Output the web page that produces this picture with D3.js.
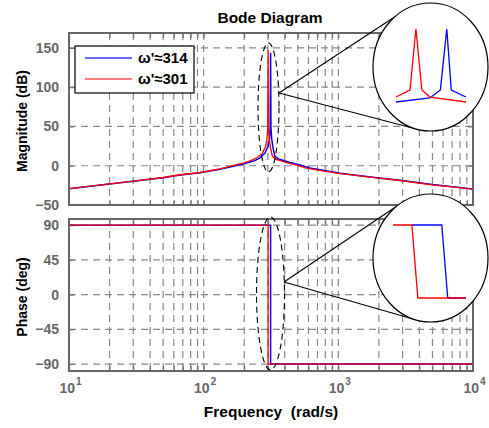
<!DOCTYPE html>
<html>
<head>
<meta charset="utf-8">
<script src="https://cdn.jsdelivr.net/npm/d3@7"></script>
<style>
body { margin: 0; background: #fff; }
text { font-family: "Liberation Sans", Arial, sans-serif; font-weight: bold; }
</style>
</head>
<body>
<svg id="chart" width="489" height="428"></svg>
<script>
// values
var seriesNames = ["\u03c9'\u2248314", "\u03c9'\u2248301"];

var magFreqBlue = [10, 20, 30, 50, 67, 94, 132, 200, 240, 262, 285, 300, 308, 312, 314, 316, 320, 328, 338, 360, 437, 519, 615, 1028, 2000, 2866, 5000, 10000];
var magBlue     = [-29.3, -23.4, -19.8, -15.3, -11.8, -9, -4.5, 2.5, 6.5, 10, 16, 24, 34, 48, 144, 48, 34, 22, 12, 8.5, 4, 1, -3, -9.5, -15.5, -18.5, -24, -29.5];

var magFreqRed  = [10, 20, 30, 50, 67, 94, 132, 200, 230, 251, 273, 288, 295, 299, 301, 303, 307, 314, 324, 345, 419, 497, 590, 1000, 2000, 2866, 5000, 10000];
var magRed      = [-29.1, -23.1, -19.5, -15, -11.5, -8.6, -4, 3.5, 7.5, 10.5, 16, 24, 34, 48, 147, 48, 34, 22, 12, 8, 3.5, 0.6, -3.3, -9.7, -15.8, -18.8, -24.3, -29.7];

var phFreqBlue = [10, 314, 314, 10000];
var phBlue     = [90, 90, -90, -90];
var phFreqRed  = [10, 301, 301, 10000];
var phRed      = [90, 90, -90, -90];

// zoomed views inside the circles
var zoomMagFreqBlue = [292.5, 306.8, 311.2, 313.9, 315.8, 322];
var zoomMagBlue     = [0, 5.5, 16.4, 100, 16.4, 6.8];
var zoomMagFreqRed  = [292.5, 298.4, 300.9, 303.4, 306.8, 322];
var zoomMagRed      = [6.8, 16.4, 100, 16.4, 6.8, 0];
var zoomPhFreqBlue  = [299.2, 311.8, 314.3, 322];
var zoomPhBlue      = [90, 90, -90, -90];
var zoomPhFreqRed   = [291.2, 299.2, 301.7, 322];
var zoomPhRed       = [90, 90, -90, -90];

var magTicks = [-50, 0, 50, 100, 150];
var phTicks = [-90, -45, 0, 45, 90];
var decades = [10, 100, 1000, 10000];
var decadeExp = ["1", "2", "3", "4"];

var svg = d3.select('#chart');
var frameColor = '#666',
    gridColor = '#888',
    blue = '#0000ff',
    red = '#ff0000';

var x = d3.scaleLog().domain([10, 10000]).range([69, 473]);
var yMag = d3.scaleLinear().domain([-50, 169]).range([205, 33]);
var yPh = d3.scaleLinear().domain([-99, 98]).range([371, 219]);

var minorTicks = x.ticks();

function zip(a, b) {
    return a.map(function(v, i) { return [v, b[i]]; });
}

function drawAxes(y, yTicks, top, bottom, id) {
    var g = svg.append('g');
    var left = x.range()[0], right = x.range()[1];

    // dashed grid
    g.selectAll('.hgrid').data(yTicks).enter()
        .append('line')
        .attr('x1', left).attr('x2', right)
        .attr('y1', function(d) { return y(d); })
        .attr('y2', function(d) { return y(d); })
        .style('stroke', gridColor).style('stroke-width', 1.2)
        .style('stroke-dasharray', '7,5');
    g.selectAll('.vgrid').data(minorTicks.slice(1, -1)).enter()
        .append('line')
        .attr('x1', function(d) { return x(d); })
        .attr('x2', function(d) { return x(d); })
        .attr('y1', top).attr('y2', bottom)
        .style('stroke', gridColor).style('stroke-width', 1.2)
        .style('stroke-dasharray', '7,5');

    // inside ticks
    g.append('g').attr('transform', 'translate(0,' + bottom + ')')
        .call(d3.axisBottom(x).tickValues(minorTicks).tickSize(-5).tickFormat(''))
        .call(function(a) { a.select('.domain').remove(); a.selectAll('line').style('stroke', frameColor); });
    g.append('g').attr('transform', 'translate(0,' + top + ')')
        .call(d3.axisTop(x).tickValues(minorTicks).tickSize(-5).tickFormat(''))
        .call(function(a) { a.select('.domain').remove(); a.selectAll('line').style('stroke', frameColor); });
    g.append('g').attr('transform', 'translate(' + left + ',0)')
        .call(d3.axisLeft(y).tickValues(yTicks).tickSize(-5).tickPadding(10))
        .call(function(a) {
            a.select('.domain').remove();
            a.selectAll('line').style('stroke', frameColor);
            a.selectAll('text').style('fill', frameColor)
                .style('font-size', '14px').style('font-family', '"Liberation Sans", Arial, sans-serif')
                .style('font-weight', 'bold');
        });
    g.append('g').attr('transform', 'translate(' + right + ',0)')
        .call(d3.axisRight(y).tickValues(yTicks).tickSize(-5).tickFormat(''))
        .call(function(a) { a.select('.domain').remove(); a.selectAll('line').style('stroke', frameColor); });

    svg.append('clipPath').attr('id', id)
        .append('rect').attr('x', left).attr('y', top)
        .attr('width', right - left).attr('height', bottom - top);
    return g;
}

function drawFrame(top, bottom) {
    svg.append('rect')
        .attr('x', x.range()[0]).attr('y', top)
        .attr('width', x.range()[1] - x.range()[0]).attr('height', bottom - top)
        .style('fill', 'none').style('stroke', frameColor).style('stroke-width', 2);
}

drawAxes(yMag, magTicks, 33, 205, 'clipMag');
drawAxes(yPh, phTicks, 219, 371, 'clipPh');

var magLine = d3.line().x(function(d) { return x(d[0]); }).y(function(d) { return yMag(d[1]); });
var phLine = d3.line().x(function(d) { return x(d[0]); }).y(function(d) { return yPh(d[1]); });

var plotMag = svg.append('g').attr('clip-path', 'url(#clipMag)');
plotMag.append('path').datum(zip(magFreqBlue, magBlue)).attr('d', magLine)
    .style('fill', 'none').style('stroke', blue).style('stroke-width', 1.5);
plotMag.append('path').datum(zip(magFreqRed, magRed)).attr('d', magLine)
    .style('fill', 'none').style('stroke', red).style('stroke-width', 1.3);

var plotPh = svg.append('g').attr('clip-path', 'url(#clipPh)');
plotPh.append('path').datum(zip(phFreqBlue, phBlue)).attr('d', phLine)
    .style('fill', 'none').style('stroke', blue).style('stroke-width', 1.5);
plotPh.append('path').datum(zip(phFreqRed, phRed)).attr('d', phLine)
    .style('fill', 'none').style('stroke', red).style('stroke-width', 1.3);

drawFrame(33, 205);
drawFrame(219, 371);

// x tick labels 10^n
var xl = svg.append('g');
decades.forEach(function(d, i) {
    xl.append('text').attr('x', x(d) + 6).attr('y', 393)
        .attr('text-anchor', 'end').style('font-size', '14px').style('fill', frameColor)
        .text('10');
    xl.append('text').attr('x', x(d) + 7).attr('y', 385)
        .style('font-size', '10px').style('fill', frameColor)
        .text(decadeExp[i]);
});

// titles
svg.append('text').attr('x', 270).attr('y', 23).attr('text-anchor', 'middle')
    .style('font-size', '15.5px').text('Bode Diagram');
svg.append('text').attr('x', 271).attr('y', 417).attr('text-anchor', 'middle')
    .style('font-size', '15.5px').attr('xml:space', 'preserve').text('Frequency  (rad/s)');
svg.append('text').attr('transform', 'translate(27,121) rotate(-90)').attr('text-anchor', 'middle')
    .style('font-size', '14px').text('Magnitude (dB)');
svg.append('text').attr('transform', 'translate(27,297) rotate(-90)').attr('text-anchor', 'middle')
    .style('font-size', '14px').text('Phase (deg)');

// legend
var legend = svg.append('g');
legend.append('rect').attr('x', 75).attr('y', 46).attr('width', 119).attr('height', 47)
    .style('fill', '#fff').style('stroke', '#000').style('stroke-width', 1.2);
[blue, red].forEach(function(c, i) {
    var ly = 58 + i * 21;
    legend.append('line').attr('x1', 85).attr('x2', 132).attr('y1', ly).attr('y2', ly)
        .style('stroke', i === 0 ? '#6a6aff' : red).style('stroke-width', i === 0 ? 2 : 1.2);
    legend.append('text').attr('x', 138).attr('y', ly + 5)
        .style('font-size', '15px').text(seriesNames[i]);
});

// zoom annotations
function zoomCallout(ell, origin, ends, circle) {
    var g = svg.append('g');
    g.append('ellipse').attr('cx', ell[0]).attr('cy', ell[1]).attr('rx', ell[2]).attr('ry', ell[3])
        .style('fill', 'none').style('stroke', '#000').style('stroke-width', 1.1)
        .style('stroke-dasharray', '6,4');
    ends.forEach(function(e) {
        g.append('line').attr('x1', origin[0]).attr('y1', origin[1]).attr('x2', e[0]).attr('y2', e[1])
            .style('stroke', '#000').style('stroke-width', 1.1);
    });
    g.append('ellipse').attr('cx', circle[0]).attr('cy', circle[1]).attr('rx', circle[2]).attr('ry', circle[3])
        .style('fill', '#fff').style('stroke', '#000').style('stroke-width', 1.2);
    return g;
}

var zx = d3.scaleLinear().domain([292.5, 322]).range([396, 466]);
var zyMag = d3.scaleLinear().domain([0, 100]).range([102, 29]);
var zyPh = d3.scaleLinear().domain([-90, 90]).range([298, 225]);

var zMag = zoomCallout([268.5, 107.5, 10.5, 64.5], [279, 93], [[396, 16], [420, 130]], [430.5, 67, 57.5, 64]);
var zMagLine = d3.line().x(function(d) { return zx(d[0]); }).y(function(d) { return zyMag(d[1]); });
zMag.append('path').datum(zip(zoomMagFreqBlue, zoomMagBlue)).attr('d', zMagLine)
    .style('fill', 'none').style('stroke', blue).style('stroke-width', 1.3);
zMag.append('path').datum(zip(zoomMagFreqRed, zoomMagRed)).attr('d', zMagLine)
    .style('fill', 'none').style('stroke', red).style('stroke-width', 1.3);

var zPh = zoomCallout([270.5, 293.5, 14, 76.5], [284, 282], [[397, 206], [420, 321]], [430.5, 258, 57.5, 64]);
var zPhLine = d3.line().x(function(d) { return zx(d[0]); }).y(function(d) { return zyPh(d[1]); });
zPh.append('path').datum(zip(zoomPhFreqBlue, zoomPhBlue)).attr('d', zPhLine)
    .style('fill', 'none').style('stroke', blue).style('stroke-width', 1.3);
zPh.append('path').datum(zip(zoomPhFreqRed, zoomPhRed)).attr('d', zPhLine)
    .style('fill', 'none').style('stroke', red).style('stroke-width', 1.3);
</script>
</body>
</html>
